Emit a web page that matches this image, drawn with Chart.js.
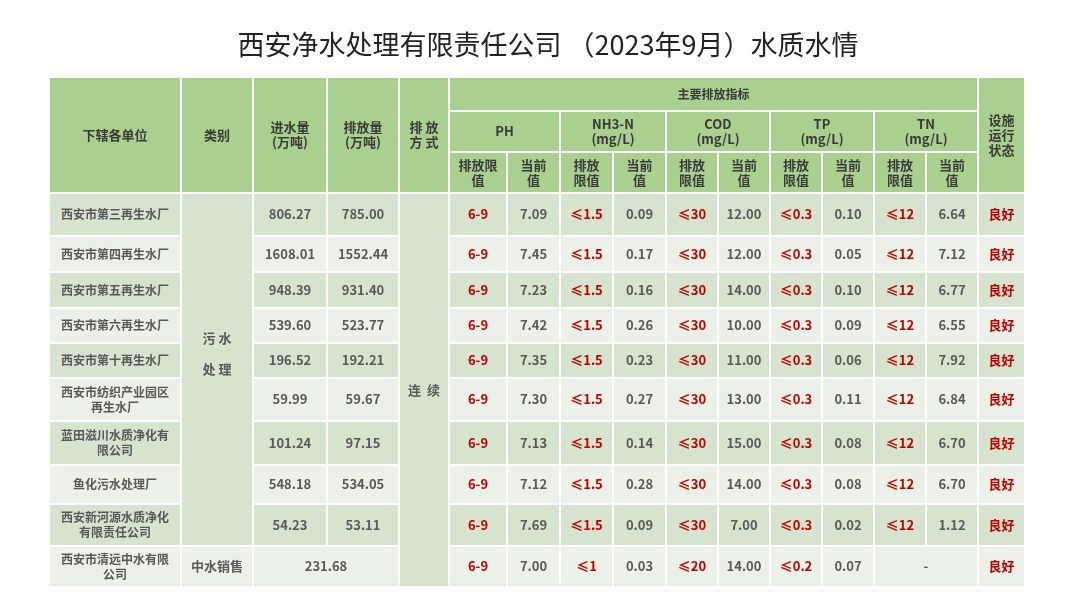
<!DOCTYPE html>
<html><head><meta charset="utf-8">
<script src="https://cdn.jsdelivr.net/npm/chart.js@4"></script>
<style>html,body{margin:0;padding:0;background:#fff;overflow:hidden}</style>
</head><body>
<canvas id="c" width="1075" height="604"></canvas>
<script>
// ---- data ----
const titleText = '西安净水处理有限责任公司 （2023年9月）水质水情';
const units = ['西安市第三再生水厂','西安市第四再生水厂','西安市第五再生水厂','西安市第六再生水厂','西安市第十再生水厂','西安市纺织产业园区\n再生水厂','蓝田滋川水质净化有\n限公司','鱼化污水处理厂','西安新河源水质净化\n有限责任公司','西安市清远中水有限\n公司'];
const categories = ['污 水\n处 理','中水销售'];
const inflow = ['806.27','1608.01','948.39','539.60','196.52','59.99','101.24','548.18','54.23','231.68'];
const outflow = ['785.00','1552.44','931.40','523.77','192.21','59.67','97.15','534.05','53.11',null];
const dischargeMode = '连  续';
const phLimit = ['6-9','6-9','6-9','6-9','6-9','6-9','6-9','6-9','6-9','6-9'];
const ph = ['7.09','7.45','7.23','7.42','7.35','7.30','7.13','7.12','7.69','7.00'];
const nh3Limit = ['≤1.5','≤1.5','≤1.5','≤1.5','≤1.5','≤1.5','≤1.5','≤1.5','≤1.5','≤1'];
const nh3 = ['0.09','0.17','0.16','0.26','0.23','0.27','0.14','0.28','0.09','0.03'];
const codLimit = ['≤30','≤30','≤30','≤30','≤30','≤30','≤30','≤30','≤30','≤20'];
const cod = ['12.00','12.00','14.00','10.00','11.00','13.00','15.00','14.00','7.00','14.00'];
const tpLimit = ['≤0.3','≤0.3','≤0.3','≤0.3','≤0.3','≤0.3','≤0.3','≤0.3','≤0.3','≤0.2'];
const tp = ['0.10','0.05','0.10','0.09','0.06','0.11','0.08','0.08','0.02','0.07'];
const tnLimit = ['≤12','≤12','≤12','≤12','≤12','≤12','≤12','≤12','≤12',null];
const tn = ['6.64','7.12','6.77','6.55','7.92','6.84','6.70','6.70','1.12','-'];
const status = ['良好','良好','良好','良好','良好','良好','良好','良好','良好','良好'];

// ---- layout (not data) ----
const colX = [49,181,253,327,399,449,507,560,613,666,718,770,822,874,926,978,1025];
const rowY = [77,111,152,193,236,272,308,343,378,421,465,504,546,587];
const C = {head:'#a9d08e', dark:'#d6e3cf', light:'#ebf1e8', red:'#c00000', gray:'#595959', hdr:'#3a3a3a'};

const cells = [];
function cell(c0,c1,r0,r1,text,fill,color,opt){cells.push({c0,c1,r0,r1,text,fill,color,opt:opt||{}});}
cell(0,1,0,3,'下辖各单位',C.head,C.hdr);
cell(1,2,0,3,'类别',C.head,C.hdr);
cell(2,3,0,3,'进水量\n(万吨)',C.head,C.hdr);
cell(3,4,0,3,'排放量\n(万吨)',C.head,C.hdr);
cell(4,5,0,3,'排 放\n方 式',C.head,C.hdr);
cell(5,15,0,1,'主要排放指标',C.head,C.hdr,{size:12});
cell(15,16,0,3,'设施\n运行\n状态',C.head,C.hdr);
const groups=['PH','NH3-N\n(mg/L)','COD\n(mg/L)','TP\n(mg/L)','TN\n(mg/L)'];
groups.forEach((g,i)=>{
  cell(5+2*i,7+2*i,1,2,g,C.head,C.hdr);
  cell(5+2*i,6+2*i,2,3,i===0?'排放限\n值':'排放\n限值',C.head,C.hdr);
  cell(6+2*i,7+2*i,2,3,'当前\n值',C.head,C.hdr);
});
cell(1,2,3,12,categories[0],C.dark,C.gray,{lh:31,dy:-16});
cell(4,5,3,13,dischargeMode,C.dark,C.gray);
units.forEach((u,i)=>{
  const r=3+i, f=i%2===0?C.dark:C.light;
  cell(0,1,r,r+1,u,f,C.gray,{size:12});
  if(i===9){
    cell(1,2,r,r+1,categories[1],f,C.gray);
    cell(2,4,r,r+1,inflow[i],f,C.gray);
  } else {
    cell(2,3,r,r+1,inflow[i],f,C.gray);
    cell(3,4,r,r+1,outflow[i],f,C.gray);
  }
  const pairs=[[phLimit,ph],[nh3Limit,nh3],[codLimit,cod],[tpLimit,tp],[tnLimit,tn]];
  pairs.forEach((p,k)=>{
    if(p[0][i]===null){ cell(5+2*k,7+2*k,r,r+1,p[1][i],f,C.gray); }
    else { cell(5+2*k,6+2*k,r,r+1,p[0][i],f,C.red); cell(6+2*k,7+2*k,r,r+1,p[1][i],f,C.gray); }
  });
  cell(15,16,r,r+1,status[i],f,C.red);
});

const tablePlugin = {
  id:'table',
  afterDraw(chart){
    const ctx=chart.ctx, xs=chart.scales.x, ys=chart.scales.y;
    const px=v=>xs.getPixelForValue(v), py=v=>ys.getPixelForValue(v);
    ctx.save();
    ctx.fillStyle='#222'; ctx.font='27px "Noto Sans CJK SC"'; ctx.textAlign='center'; ctx.textBaseline='middle';
    ctx.fillText(titleText, px(548), py(45));
    cells.forEach(c=>{
      const x0=px(colX[c.c0])+1, x1=px(colX[c.c1])-1, y0=py(rowY[c.r0])+1, y1=py(rowY[c.r1])-1;
      ctx.fillStyle=c.fill; ctx.fillRect(x0,y0,x1-x0,y1-y0);
      if(c.text==null) return;
      const lines=String(c.text).split('\n');
      const size=c.opt.size||13, lh=c.opt.lh||15;
      ctx.font='bold '+size+'px "Noto Sans CJK SC"';
      ctx.fillStyle=c.color;
      const cx=(x0+x1)/2, cy=(y0+y1)/2+(c.opt.dy||0);
      lines.forEach((l,j)=>ctx.fillText(l,cx,cy+(j-(lines.length-1)/2)*lh));
    });
    ctx.restore();
  }
};

new Chart(document.getElementById('c'),{
  type:'scatter',
  data:{datasets:[{data:[]}]},
  options:{
    responsive:false, animation:false, devicePixelRatio:1,
    layout:{padding:0},
    plugins:{legend:{display:false},tooltip:{enabled:false},title:{display:false}},
    scales:{
      x:{type:'linear',min:0,max:1075,display:false},
      y:{type:'linear',min:0,max:604,reverse:true,display:false}
    }
  },
  plugins:[tablePlugin]
});
</script>
</body></html>
